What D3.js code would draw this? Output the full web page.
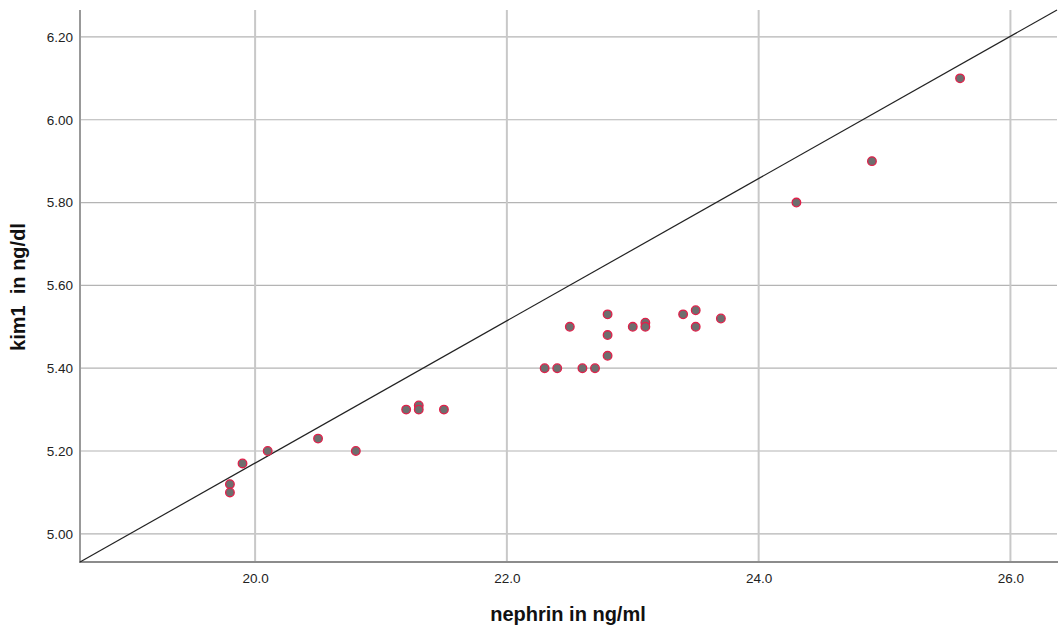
<!DOCTYPE html>
<html><head><meta charset="utf-8">
<script src="https://cdn.jsdelivr.net/npm/d3@7"></script>
<style>body{margin:0;background:#fff;} svg{display:block;font-family:"Liberation Sans",Arial,sans-serif;}</style>
</head><body>
<svg id="c" width="1058" height="627"></svg>
<script>
const nephrin = [19.8,19.8,19.9,20.1,20.5,20.8,21.2,21.3,21.3,21.5,22.3,22.4,22.5,22.6,22.7,22.8,22.8,22.8,23.0,23.1,23.1,23.4,23.5,23.5,23.7,24.3,24.9,25.6];
const kim1    = [5.12,5.10,5.17,5.20,5.23,5.20,5.30,5.31,5.30,5.30,5.40,5.40,5.50,5.40,5.40,5.53,5.48,5.43,5.50,5.51,5.50,5.53,5.54,5.50,5.52,5.80,5.90,6.10];
const xTicks = [20,22,24,26];
const yTicks = [5.0,5.2,5.4,5.6,5.8,6.0,6.2];
const xDomain = [18.609, 26.37];
const yDomain = [4.932, 6.265];

const svg = d3.select("#c");
const L=80, R=1057, T=10, B=562;
const x = d3.scaleLinear().domain(xDomain).range([L,R]);
const y = d3.scaleLinear().domain(yDomain).range([B,T]);

// horizontal gridlines
svg.append("g").selectAll("line").data(yTicks).join("line")
  .attr("x1",L).attr("x2",R).attr("y1",d=>y(d)).attr("y2",d=>y(d))
  .attr("stroke","#b4b4b4").attr("stroke-width",1.2);
// vertical gridlines
svg.append("g").selectAll("line").data(xTicks).join("line")
  .attr("y1",T).attr("y2",B).attr("x1",d=>x(d)).attr("x2",d=>x(d))
  .attr("stroke","#c8c8c8").attr("stroke-width",2);

// axes
const yAxis = svg.append("g").attr("transform",`translate(${L},0)`)
  .call(d3.axisLeft(y).tickValues(yTicks).tickFormat(d3.format(".2f")).tickSize(0).tickPadding(7));
const xAxis = svg.append("g").attr("transform",`translate(0,${B})`)
  .call(d3.axisBottom(x).tickValues(xTicks).tickFormat(d3.format(".1f")).tickSize(0).tickPadding(11));
yAxis.select(".domain").remove(); xAxis.select(".domain").remove();
[yAxis,xAxis].forEach(a=>a.selectAll("text").attr("font-size",13.5).attr("fill","#222").attr("font-family","Liberation Sans, Arial, sans-serif"));

svg.append("line").attr("x1",L).attr("x2",L).attr("y1",T).attr("y2",B+1).attr("stroke","#999").attr("stroke-width",2);
svg.append("line").attr("x1",L-1).attr("x2",R+1).attr("y1",B).attr("y2",B).attr("stroke","#8c8c8c").attr("stroke-width",2);

// diagonal reference line
svg.append("line")
  .attr("x1",x(xDomain[0])).attr("y1",y(yDomain[0]))
  .attr("x2",x(xDomain[1])).attr("y2",y(yDomain[1]))
  .attr("stroke","#222").attr("stroke-width",1.2);

// points
svg.append("g").selectAll("circle").data(nephrin.map((v,i)=>[v,kim1[i]])).join("circle")
  .attr("cx",d=>x(d[0])).attr("cy",d=>y(d[1])).attr("r",4.3)
  .attr("fill","#6e6e6e").attr("stroke","#e0204a").attr("stroke-width",1.3);

// axis titles
svg.append("text").attr("x",568).attr("y",621).attr("text-anchor","middle")
  .attr("font-size",20).attr("font-weight","bold").attr("fill","#111").text("nephrin in ng/ml");
svg.append("text").attr("transform","translate(25,287) rotate(-90)").attr("text-anchor","middle")
  .attr("font-size",20).attr("font-weight","bold").attr("fill","#111").attr("xml:space","preserve").text("kim1  in ng/dl");
</script>
</body></html>
